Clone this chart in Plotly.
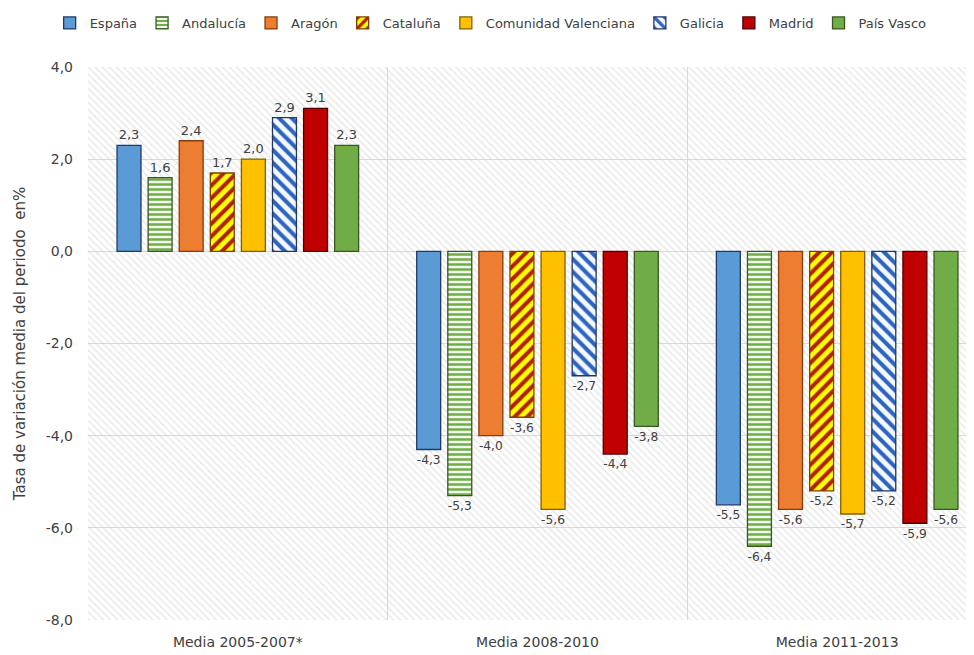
import plotly.graph_objects as go

categories = ["Media 2005-2007*", "Media 2008-2010", "Media 2011-2013"]
series_names = ["España", "Andalucía", "Aragón", "Cataluña", "Comunidad Valenciana",
                "Galicia", "Madrid", "País Vasco"]
espana = [2.3, -4.3, -5.5]
andalucia = [1.6, -5.3, -6.4]
aragon = [2.4, -4.0, -5.6]
cataluna = [1.7, -3.6, -5.2]
valenciana = [2.0, -5.6, -5.7]
galicia = [2.9, -2.7, -5.2]
madrid = [3.1, -4.4, -5.9]
pais_vasco = [2.3, -3.8, -5.6]
y_ticks = [4, 2, 0, -2, -4, -6, -8]

values = [espana, andalucia, aragon, cataluna, valenciana, galicia, madrid, pais_vasco]


def fmt(v):
    return f"{v:.1f}".replace(".", ",")


styles = [
    dict(color="#5B9BD5", line="#1F3864", pattern=None),
    dict(color="#E2EFDA", line="#385723", pattern=dict(shape="-", fgcolor="#70AD47", bgcolor="#F2F8EE", size=5, solidity=0.5, fillmode="replace")),
    dict(color="#ED7D31", line="#843C0C", pattern=None),
    dict(color="#FFFF00", line="#7F3F00", pattern=dict(shape="/", fgcolor="#B22000", bgcolor="#FFFF00", size=9, solidity=0.45, fillmode="replace")),
    dict(color="#FFC000", line="#7F6000", pattern=None),
    dict(color="#FFFFFF", line="#1F3864", pattern=dict(shape="\\", fgcolor="#2E64C0", bgcolor="#F4F9FF", size=9, solidity=0.45, fillmode="replace")),
    dict(color="#C00000", line="#500000", pattern=None),
    dict(color="#70AD47", line="#385723", pattern=None),
]

fig = go.Figure()

# hatched plot background
fig.add_trace(go.Bar(
    x=[0.5], y=[12], base=[-8], width=[1], xaxis="x", yaxis="y",
    marker=dict(color="rgba(0,0,0,0)", line=dict(width=0),
                pattern=dict(shape="\\", fgcolor="#D2D2D2", size=5, solidity=0.3, fillmode="overlay")),
    showlegend=False, hoverinfo="skip",
))

for name, vals, st in zip(series_names, values, styles):
    marker = dict(color=st["color"], line=dict(color=st["line"], width=1.3))
    if st["pattern"]:
        marker["pattern"] = st["pattern"]
    fig.add_trace(go.Bar(
        name=name, x=categories, y=vals, xaxis="x2", yaxis="y",
        marker=marker,
        text=[fmt(v) for v in vals], texttemplate="%{text}", textposition="outside",
        textfont=dict(size=13, color="#404040"),
        cliponaxis=False,
    ))

fig.update_layout(
    width=985, height=655,
    separators=",.",
    barmode="group", bargap=0.17, bargroupgap=0.23,
    paper_bgcolor="white", plot_bgcolor="white",
    font=dict(family="DejaVu Sans", size=13, color="#404040"),
    margin=dict(l=80, r=6, t=59, b=43, autoexpand=False),
    xaxis=dict(range=[0, 1], visible=False, fixedrange=True),
    xaxis2=dict(overlaying="x", side="bottom", type="category",
                showgrid=True, gridcolor="#D9D9D9", tickson="boundaries",
                ticks="", showline=False, ticklabelstandoff=12,
                tickfont=dict(size=14, color="#404040"), automargin=False),
    yaxis=dict(range=[-8, 4], tickvals=y_ticks, ticktext=[fmt(t) for t in y_ticks],
               showgrid=True, gridcolor="#D9D9D9", zeroline=True, zerolinecolor="#D9D9D9",
               zerolinewidth=1, ticks="", ticklabelstandoff=14, tickfont=dict(size=14, color="#404040"),
               automargin=False,
               title=dict(text="Tasa de variación media del periodo  en%", font=dict(size=15, color="#404040"), standoff=16)),
    legend=dict(orientation="h", x=0.49, xanchor="center", y=1, yanchor="top",
                xref="container", yref="container", font=dict(size=13, color="#404040"),
                itemwidth=30, traceorder="normal"),
    showlegend=True,
)

fig.write_html("out.html")
